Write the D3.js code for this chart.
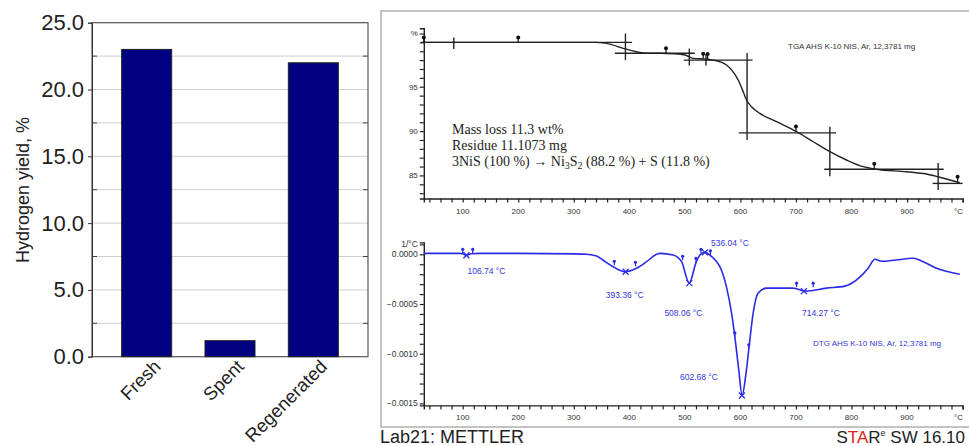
<!DOCTYPE html>
<html><head><meta charset="utf-8">
<script src="https://cdn.jsdelivr.net/npm/d3@7"></script>
<style>body{margin:0;background:#fff;} svg{display:block;}</style>
</head><body><svg id="c" width="969" height="446"></svg>
<script>
// ---------- Left: hydrogen yield bar chart ----------
const categories = ["Fresh", "Spent", "Regenerated"];
const hydrogenYield = [23.0, 1.2, 22.0];
const yieldTicks = [0, 5, 10, 15, 20, 25];
const yieldGrid = [2.5, 5, 7.5, 10, 12.5, 15, 17.5, 20, 22.5];

// ---------- Right top: TGA curve ----------
const tgaTemp = [30, 100, 200, 300, 340, 347, 365, 389, 413, 431, 455, 480, 500, 515, 539, 563, 575, 584, 596, 605, 611, 620, 635, 665, 701, 731, 761, 791, 821, 845, 899, 935, 959, 995];
const tgaMass = [100, 100, 100, 100, 100, 99.97, 99.8, 99.33, 98.95, 98.77, 98.77, 98.72, 98.58, 98.2, 98.1, 97.82, 97.45, 96.9, 95.76, 94.44, 93.5, 92.75, 92.0, 91.06, 89.93, 88.8, 87.68, 86.74, 85.99, 85.7, 85.42, 85.16, 84.79, 84.18];
const tgaLevelFrom = [25, 374, 498, 597, 751, 946];
const tgaLevelTo = [405, 518, 622, 772, 966, 1000];
const tgaLevelMass = [100.0, 98.77, 98.0, 89.8, 85.7, 84.1];
const tgaLimitTemp = [84, 393, 508, 538, 612, 761, 956];
const tgaLimitTop = [100.55, 101.0, 99.3, 98.7, 98.8, 90.5, 86.4];
const tgaLimitBottom = [99.25, 98.0, 97.4, 97.4, 89.0, 84.9, 83.35];
const tgaMarkTemp = [30, 200, 466, 533, 541, 700, 841, 991];
const tgaMarkMass = [100, 100, 98.77, 98.15, 98.12, 89.95, 85.75, 84.28];
const tgaYTicks = [85, 90, 95];
const tempTicks = [100, 200, 300, 400, 500, 600, 700, 800, 900];

// ---------- Right bottom: DTG curve ----------
const dtgTemp = [30, 60, 95, 100, 107, 115, 130, 200, 300, 323, 341, 353, 371, 392, 413, 431, 449, 455, 479, 494, 508, 520, 527, 536, 545, 555, 566, 575, 584, 590, 597, 603, 610, 616, 623, 632, 647, 695, 716, 755, 788, 815, 830, 842, 854, 875, 911, 929, 953, 995];
const dtgRate = [0.00001, 0.00001, 0.00001, 0.000005, -0.00001, 0.000005, 0.00001, 0.00001, 0.000005, 0, -0.000017, -0.00006, -0.000125, -0.000175, -0.00014, -0.000074, 0, 0.00001, -0.000007, -0.000074, -0.00029, -0.000084, -0.000007, 0.00002, -0.000007, -0.00006, -0.00016, -0.00033, -0.00059, -0.00083, -0.00116, -0.00142, -0.0012, -0.00091, -0.00059, -0.00039, -0.00034, -0.00034, -0.00037, -0.00034, -0.00032, -0.00023, -0.00014, -0.00005, -0.00007, -0.00006, -0.00004, -0.000074, -0.00014, -0.0002];
const dtgPeakTemp = [106.74, 393.36, 508.06, 536.04, 602.68, 714.27];
const dtgPeakRate = [-0.00001, -0.000175, -0.00029, 0.00002, -0.00142, -0.00037];
const dtgLimitTemp = [100, 118, 373, 411, 496, 520, 529, 546, 590, 615, 701, 731];
const dtgLimitRate = [0.00001, 0.00001, -0.00011, -0.00012, -0.00006, -0.00008, 0.00001, -0.000005, -0.00083, -0.00095, -0.00033, -0.00033];
const dtgYTicks = [0, -0.0005, -0.001, -0.0015];

const svg = d3.select("#c");
const sans = "Liberation Sans, Arial, sans-serif";

// ================= LEFT CHART =================
const L = {left: 92, right: 368, top: 22.7, bottom: 356.7};
const bx = d3.scaleBand().domain(categories).range([L.left, L.right]).paddingInner(0.4).paddingOuter(0.356);
const by = d3.scaleLinear().domain([0, 25]).range([L.bottom, L.top]);

const gl = svg.append("g");
gl.selectAll(".grid").data(yieldGrid).join("line")
  .attr("x1", L.left).attr("x2", L.right)
  .attr("y1", d => by(d)).attr("y2", d => by(d))
  .attr("stroke", "#cfcfcf").attr("stroke-width", 1);
const minor = yieldGrid.filter(d => d % 5 !== 0);
gl.selectAll(".mt").data(minor).join("line")
  .attr("x1", L.left).attr("x2", L.left + 5).attr("y1", d => by(d)).attr("y2", d => by(d))
  .attr("stroke", "#444");
gl.selectAll(".mt2").data(minor).join("line")
  .attr("x1", L.right - 5).attr("x2", L.right).attr("y1", d => by(d)).attr("y2", d => by(d))
  .attr("stroke", "#444");
gl.append("rect").attr("x", L.left).attr("y", L.top).attr("width", L.right - L.left).attr("height", L.bottom - L.top)
  .attr("fill", "none").attr("stroke", "#555").attr("stroke-width", 1.2);

gl.selectAll(".bar").data(categories).join("rect")
  .attr("x", d => bx(d)).attr("width", bx.bandwidth())
  .attr("y", (d, i) => by(hydrogenYield[i]))
  .attr("height", (d, i) => by(0) - by(hydrogenYield[i]))
  .attr("fill", "#000080").attr("stroke", "#222").attr("stroke-width", 1);

const ay = gl.append("g").attr("transform", `translate(${L.left},0)`)
  .call(d3.axisLeft(by).tickValues(yieldTicks).tickFormat(d3.format(".1f")).tickSize(4).tickPadding(4));
ay.select(".domain").attr("stroke", "#333");
ay.selectAll("line").attr("stroke", "#333");
ay.selectAll("text").attr("font-family", sans).attr("font-size", 22).attr("fill", "#222");

const ax = gl.append("g").attr("transform", `translate(0,${L.bottom})`)
  .call(d3.axisBottom(bx).tickSize(0));
ax.select(".domain").remove();
ax.selectAll("text").attr("font-family", sans).attr("font-size", 18.5).attr("fill", "#222")
  .attr("text-anchor", "end").attr("y", 0).attr("dy", 0)
  .attr("transform", "translate(15,11) rotate(-45)");

gl.append("text").attr("transform", `translate(29,190) rotate(-90)`)
  .attr("text-anchor", "middle").attr("font-family", sans).attr("font-size", 18).attr("fill", "#222")
  .text("Hydrogen yield, %");

// ================= RIGHT PANEL =================
svg.append("rect").attr("x", 381).attr("y", 11).attr("width", 620).attr("height", 416)
  .attr("fill", "none").attr("stroke", "#b4b4b4").attr("stroke-width", 1.6);

const tx = d3.scaleLinear().domain([30, 1000]).range([423.8, 962.6]);
const ty = d3.scaleLinear().domain([82.4, 101.6]).range([198.5, 28.2]);
const dy = d3.scaleLinear().domain([-0.00152, 0.00012]).range([405.4, 242.4]);
const small = "Liberation Sans, Arial, sans-serif";

function tempAxis(g, y) {
  const a = g.append("g").attr("transform", `translate(0,${y})`)
    .call(d3.axisBottom(tx).tickValues(d3.range(40, 1001, 20)).tickSize(4).tickFormat(""));
  a.select(".domain").attr("stroke", "#222").attr("stroke-width", 1.4);
  a.selectAll("line").attr("stroke", "#222").attr("stroke-width", 1.2);
  g.selectAll(null).data(tempTicks).join("text")
    .attr("x", d => tx(d)).attr("y", y + 15).attr("text-anchor", "middle")
    .attr("font-family", small).attr("font-size", 8).attr("fill", "#333").text(d => d);
  g.append("text").attr("x", tx(1000) - 4).attr("y", y + 15).attr("text-anchor", "middle")
    .attr("font-family", small).attr("font-size", 8).attr("fill", "#333").text("°C");
}

// ---- TGA ----
const gt = svg.append("g");
const tya = gt.append("g").attr("transform", `translate(${tx(30)},0)`)
  .call(d3.axisLeft(ty).tickValues(d3.range(83, 101.5, 1)).tickSize(4).tickFormat(""));
tya.select(".domain").attr("stroke", "#222").attr("stroke-width", 1.4);
tya.selectAll("line").attr("stroke", "#222").attr("stroke-width", 1.2);
gt.selectAll(null).data(tgaYTicks).join("text")
  .attr("x", tx(30) - 6).attr("y", d => ty(d)).attr("dy", "0.35em").attr("text-anchor", "end")
  .attr("font-family", small).attr("font-size", 8).attr("fill", "#333").text(d => d);
gt.append("text").attr("x", tx(30) - 6).attr("y", ty(101)).attr("dy", "0.35em").attr("text-anchor", "end")
  .attr("font-family", small).attr("font-size", 8).attr("fill", "#333").text("%");
tempAxis(gt, 198.5);

gt.selectAll(".lvl").data(tgaLevelMass).join("line")
  .attr("x1", (d, i) => tx(tgaLevelFrom[i])).attr("x2", (d, i) => tx(tgaLevelTo[i]))
  .attr("y1", d => ty(d)).attr("y2", d => ty(d))
  .attr("stroke", "#222").attr("stroke-width", 1.4);
gt.selectAll(".lim").data(tgaLimitTemp).join("line")
  .attr("x1", d => tx(d)).attr("x2", d => tx(d))
  .attr("y1", (d, i) => ty(tgaLimitTop[i])).attr("y2", (d, i) => ty(tgaLimitBottom[i]))
  .attr("stroke", "#222").attr("stroke-width", 1.4);

const tgaLine = d3.line().x((d, i) => tx(tgaTemp[i])).y(d => ty(d)).curve(d3.curveMonotoneX);
gt.append("path").attr("d", tgaLine(tgaMass)).attr("fill", "none").attr("stroke", "#222").attr("stroke-width", 1.4);

const tm = gt.selectAll(".tm").data(tgaMarkMass).join("g")
  .attr("transform", (d, i) => `translate(${tx(tgaMarkTemp[i])},${ty(d)})`);
tm.append("line").attr("y1", 0).attr("y2", -5).attr("stroke", "#111").attr("stroke-width", 1.2);
tm.append("circle").attr("cy", -5).attr("r", 2).attr("fill", "#111");

gt.append("text").attr("x", 788).attr("y", 49).attr("font-family", small).attr("font-size", 8)
  .attr("fill", "#333").text("TGA AHS K-10 NIS, Ar, 12,3781 mg");

const serif = "Liberation Serif, Times New Roman, serif";
const tb = gt.append("g").attr("font-family", serif).attr("font-size", 14).attr("fill", "#222");
tb.append("text").attr("x", 452).attr("y", 134).text("Mass loss 11.3 wt%");
tb.append("text").attr("x", 452).attr("y", 150).text("Residue 11.1073 mg");
const t3 = tb.append("text").attr("x", 452).attr("y", 166);
t3.append("tspan").text("3NiS (100 %) \u2192 Ni");
t3.append("tspan").attr("font-size", 10).attr("dy", 3).text("3");
t3.append("tspan").attr("dy", -3).text("S");
t3.append("tspan").attr("font-size", 10).attr("dy", 3).text("2");
t3.append("tspan").attr("dy", -3).text(" (88.2 %) + S (11.8 %)");

// ---- DTG ----
const gd = svg.append("g");
const blue = "#2a2ae6";
const dya = gd.append("g").attr("transform", `translate(${tx(30)},0)`)
  .call(d3.axisLeft(dy).tickValues(d3.range(-15, 2).map(k => k * 0.0001)).tickSize(4).tickFormat(""));
dya.select(".domain").attr("stroke", "#222").attr("stroke-width", 1.4);
dya.selectAll("line").attr("stroke", "#222").attr("stroke-width", 1.2);
gd.selectAll(null).data(dtgYTicks).join("text")
  .attr("x", tx(30) - 6).attr("y", d => dy(d)).attr("dy", "0.35em").attr("text-anchor", "end")
  .attr("font-family", small).attr("font-size", 8.5).attr("fill", "#333")
  .text(d => (d < 0 ? "\u2212" : "") + Math.abs(d).toFixed(4));
gd.append("text").attr("x", tx(30) - 6).attr("y", dy(0.0001)).attr("dy", "0.35em").attr("text-anchor", "end")
  .attr("font-family", small).attr("font-size", 8.5).attr("fill", "#333").text("1/°C");
tempAxis(gd, 405.4);

const dtgLine = d3.line().x((d, i) => tx(dtgTemp[i])).y(d => dy(d)).curve(d3.curveMonotoneX);
gd.append("path").attr("d", dtgLine(dtgRate)).attr("fill", "none").attr("stroke", blue).attr("stroke-width", 1.6);

const dl = gd.selectAll(".dl").data(dtgLimitRate).join("g")
  .attr("transform", (d, i) => `translate(${tx(dtgLimitTemp[i])},${dy(d)})`);
dl.append("line").attr("y1", 0).attr("y2", -4).attr("stroke", blue).attr("stroke-width", 1.2);
dl.append("circle").attr("cy", -4).attr("r", 1.6).attr("fill", blue);

const pk = gd.selectAll(".pk").data(dtgPeakRate).join("g")
  .attr("transform", (d, i) => `translate(${tx(dtgPeakTemp[i])},${dy(d)})`);
pk.append("path").attr("d", "M-3,-3L3,3M-3,3L3,-3").attr("stroke", blue).attr("stroke-width", 1.3);

const labelOffsets = [[20, 16], [-1, 23], [-6, 30], [25, -9], [-43, -18], [17, 22]];
gd.selectAll(".pl").data(dtgPeakTemp).join("text")
  .attr("x", (d, i) => tx(d) + labelOffsets[i][0])
  .attr("y", (d, i) => dy(dtgPeakRate[i]) + labelOffsets[i][1])
  .attr("dy", "0.35em").attr("text-anchor", "middle")
  .attr("font-family", small).attr("font-size", 8.5).attr("fill", "#3535e0")
  .text(d => d.toFixed(2) + " °C");
gd.append("text").attr("x", 813).attr("y", 346).attr("font-family", small).attr("font-size", 8)
  .attr("fill", "#3535e0").text("DTG AHS K-10 NIS, Ar, 12,3781 mg");

// ---- footer ----
svg.append("text").attr("x", 380).attr("y", 443).attr("font-family", sans).attr("font-size", 18)
  .attr("fill", "#222").text("Lab21: METTLER");
const ft = svg.append("text").attr("x", 965).attr("y", 443).attr("text-anchor", "end")
  .attr("font-family", sans).attr("font-size", 17).attr("fill", "#222");
ft.append("tspan").text("S");
ft.append("tspan").attr("fill", "#e02020").text("TA");
ft.append("tspan").text("R");
ft.append("tspan").attr("font-size", 9).attr("dy", -7).text("e");
ft.append("tspan").attr("dy", 7).text(" SW 16.10");
</script>
</body></html>
